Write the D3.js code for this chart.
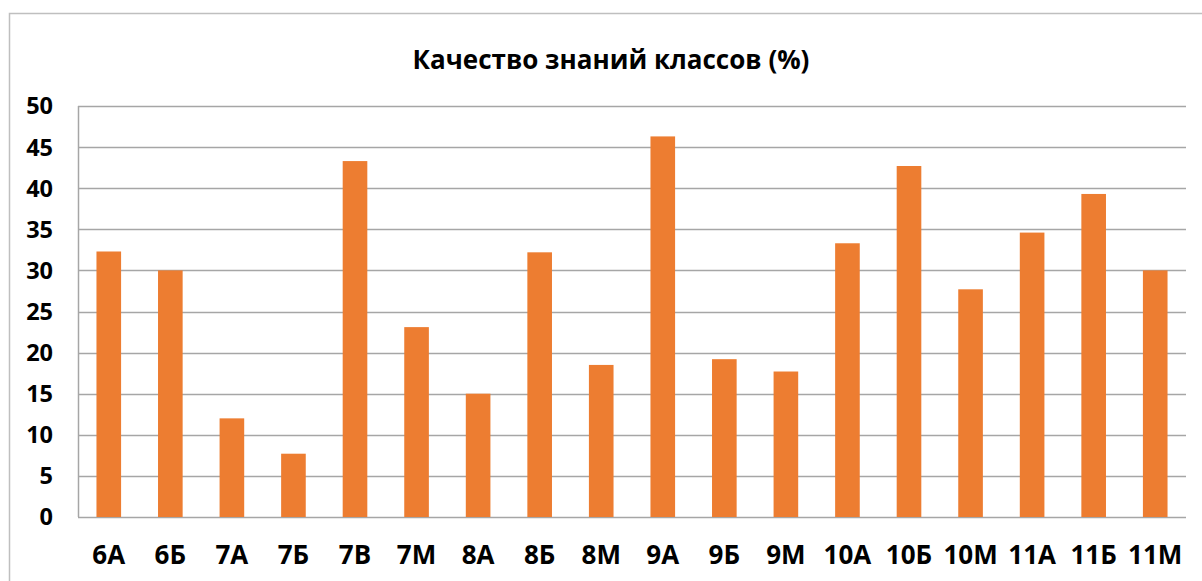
<!DOCTYPE html>
<html>
<head>
<meta charset="utf-8">
<script src="https://cdn.jsdelivr.net/npm/d3@7"></script>
<style>
  body { margin: 0; background: #fff; }
  text { font-family: "Open Sans", "Noto Sans", sans-serif; font-weight: 700; fill: #000; }
</style>
</head>
<body>
<div id="chart"></div>
<script>
const title = "Качество знаний классов (%)";
const classes = ["6А", "6Б", "7А", "7Б", "7В", "7М", "8А", "8Б", "8М", "9А", "9Б", "9М", "10А", "10Б", "10М", "11А", "11Б", "11М"];
const quality = [32.3, 30.0, 12.0, 7.7, 43.3, 23.1, 15.0, 32.2, 18.5, 46.3, 19.2, 17.7, 33.3, 42.7, 27.7, 34.6, 39.3, 30.0];
const yTicks = [0, 5, 10, 15, 20, 25, 30, 35, 40, 45, 50];

const width = 1202, height = 581;
const margin = { left: 78, right: 16, top: 106, bottom: 64 };

const svg = d3.select("#chart").append("svg")
  .attr("width", width).attr("height", height);

// outer chart frame (continues past the right and bottom edges)
svg.append("rect")
  .attr("x", 9.5).attr("y", 13.5)
  .attr("width", 1400).attr("height", 800)
  .attr("fill", "none").attr("stroke", "#bfbfbf").attr("stroke-width", 1.5);

const x = d3.scaleBand()
  .domain(classes)
  .range([margin.left, width - margin.right])
  .paddingInner(0.6).paddingOuter(0.3);

const y = d3.scaleLinear()
  .domain([0, 50])
  .range([height - margin.bottom, margin.top]);

// gridlines
svg.append("g")
  .selectAll("line")
  .data(yTicks)
  .join("line")
  .attr("x1", margin.left).attr("x2", width - margin.right)
  .attr("y1", d => Math.round(y(d)) + 0.5).attr("y2", d => Math.round(y(d)) + 0.5)
  .attr("stroke", "#a6a6a6").attr("stroke-width", 1.5);

// left axis line
svg.append("line")
  .attr("x1", margin.left + 0.5).attr("x2", margin.left + 0.5)
  .attr("y1", y(50)).attr("y2", y(0))
  .attr("stroke", "#a6a6a6").attr("stroke-width", 1.5);

// bars
svg.append("g")
  .selectAll("rect")
  .data(classes)
  .join("rect")
  .attr("x", d => x(d))
  .attr("width", x.bandwidth())
  .attr("y", (d, i) => y(quality[i]))
  .attr("height", (d, i) => y(0) - y(quality[i]))
  .attr("fill", "#ed7d31");

// y tick labels
svg.append("g")
  .selectAll("text")
  .data(yTicks)
  .join("text")
  .attr("x", 53)
  .attr("y", d => y(d))
  .attr("dy", "0.36em")
  .attr("text-anchor", "end")
  .style("font-size", "23.5px")
  .text(d => d);

// category labels
svg.append("g")
  .selectAll("text")
  .data(classes)
  .join("text")
  .attr("x", d => x(d) + x.bandwidth() / 2)
  .attr("y", 564)
  .attr("text-anchor", "middle")
  .style("font-size", "26px")
  .text(d => d);

// title
svg.append("text")
  .attr("x", 611)
  .attr("y", 69)
  .attr("text-anchor", "middle")
  .style("font-size", "26px")
  .text(title);
</script>
</body>
</html>
